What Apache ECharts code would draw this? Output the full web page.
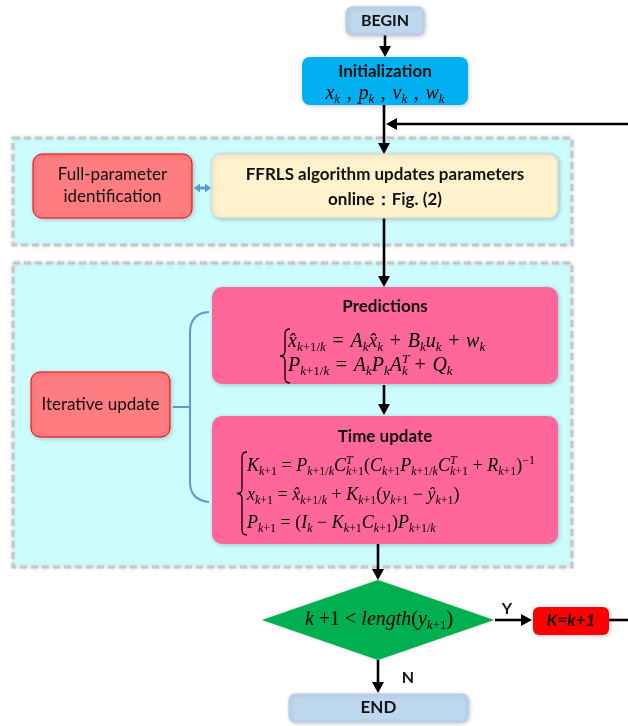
<!DOCTYPE html>
<html><head><meta charset="utf-8">
<script src="https://cdn.jsdelivr.net/npm/echarts@6/dist/echarts.min.js"></script>
<style>html,body{margin:0;padding:0;background:#fff}#c{width:628px;height:726px}</style>
</head><body><div id="c"></div>
<script>
// ---------------- content (text of the flowchart) ----------------
const boxLabels = ['BEGIN', 'Initialization', 'Full-parameter\nidentification',
  'FFRLS algorithm updates parameters\nonline\uff1aFig. (2)', 'Iterative update',
  'Predictions', 'Time update', 'K=k+1', 'END'];
const initVariables = ['x_{k} , p_{k} , v_{k} , w_{k}'];
const predictionEquations = ['x\u0302_{k+1/k} = A_{k}x\u0302_{k} + B_{k}u_{k} + w_{k}',
  'P_{k+1/k} = A_{k}P_{k}A^{T}_{k} + Q_{k}'];
const timeUpdateEquations = ['K_{k+1} = P_{k+1/k}C^{T}_{k+1}(C_{k+1}P_{k+1/k}C^{T}_{k+1} + R_{k+1})^{\u22121}',
  'x_{k+1} = x\u0302_{k+1/k} + K_{k+1}(y_{k+1} \u2212 \u0177_{k+1})',
  'P_{k+1} = (I_{k} \u2212 K_{k+1}C_{k+1})P_{k+1/k}'];
const decisionCondition = ['k +1 < length(y_{k+1})'];
const branchLabels = ['Y', 'N'];

// ---------------- layout (pixel frame of the page) ----------------
const LAB = 'Lato, "Open Sans", sans-serif';
const regionLayout = [[13, 138, 572, 245], [13, 263, 572, 567]];
const boxLayout = [
  { rect: [346, 7, 424, 35], r: 6, fill: '#bdd7ee', stroke: '#b3cce6', ty: 21, font: 'bold 16px ' + LAB },
  { rect: [302, 57, 468, 105], r: 8, fill: '#00b0f0', stroke: null, ty: 72, font: 'bold 17px ' + LAB },
  { rect: [33, 154, 192, 218], r: 9, fill: '#ff7c80', stroke: '#ff0000', ty: 186, lh: 22, font: '17px ' + LAB },
  { rect: [212, 154, 558, 218], r: 9, fill: '#fff2cc', stroke: '#d9d9d9', ty: 187.5, lh: 25, font: 'bold 17px ' + LAB },
  { rect: [31, 372, 170, 437], r: 9, fill: '#ff7c80', stroke: '#ff0000', ty: 405, font: '17px ' + LAB },
  { rect: [212, 287, 558, 384], r: 10, fill: '#ff6699', stroke: null, ty: 307, font: 'bold 17px ' + LAB },
  { rect: [212, 416, 558, 544], r: 10, fill: '#ff6699', stroke: null, ty: 437, font: 'bold 17px ' + LAB },
  { rect: [533, 607, 609, 635], r: 6, fill: '#ff0000', stroke: null, ty: 621, font: 'italic bold 17px ' + LAB },
  { rect: [289, 694, 468, 722], r: 6, fill: '#bdd7ee', stroke: '#b3cce6', ty: 708, font: 'bold 17px ' + LAB }
];
const arrowLayout = [
  { pts: [[385, 35], [385, 57]], head: 'end' },
  { pts: [[384, 105], [384, 154]], head: 'end' },
  { pts: [[628, 124], [386, 124]], head: 'end' },
  { pts: [[384, 218], [384, 287]], head: 'end' },
  { pts: [[384, 385], [384, 415]], head: 'end' },
  { pts: [[378, 544], [378, 580]], head: 'end' },
  { pts: [[495, 620], [532, 620]], head: 'end' },
  { pts: [[609, 620], [628, 620]], head: 'none' },
  { pts: [[378, 660], [378, 693]], head: 'end' },
  { pts: [[194, 188], [211, 188]], head: 'both', color: '#5b9bd5', width: 3, hl: 6, hw: 4.5 }
];
const mathSources = [].concat(initVariables, predictionEquations, timeUpdateEquations, decisionCondition);
const mathLayout = [
  { x: 385, y: 94, align: 'center', size: 20, sub: 13, wide: true },
  { x: 288, y: 342, align: 'left', size: 20, sub: 13, wide: true },
  { x: 288, y: 366, align: 'left', size: 20, sub: 13, wide: true },
  { x: 247, y: 466, align: 'left', size: 18, sub: 12 },
  { x: 247, y: 495, align: 'left', size: 18, sub: 12 },
  { x: 247, y: 523, align: 'left', size: 18, sub: 12 },
  { x: 379, y: 620, align: 'center', size: 20, sub: 13 }
];
const braceLayout = [
  { x: 285, y0: 329, y1: 383, d: 5, color: '#000', width: 1.3 },
  { x: 242, y0: 452, y1: 535, d: 5, color: '#000', width: 1.3 }
];
const labelLayout = [[507, 609], [408, 678]];
const diamondLayout = { cx: 378, cy: 620, hw: 116, hh: 40, fill: '#00b050' };

// ---------------- math text helper (rich text) ----------------
function mathStyles(S, sS) {
  const fam = '"Liberation Serif", "Times New Roman", serif';
  const H = Math.round(S * 1.2), sh = Math.round(S * 0.62);
  const b = (size, it, extra) => Object.assign({ fontFamily: fam, fontSize: size, fontStyle: it ? 'italic' : 'normal', fill: '#000' }, extra);
  return {
    mi: b(S, true, { height: H, lineHeight: H }),
    mu: b(S, false, { height: H, lineHeight: H }),
    si: b(sS, true, { height: sh, lineHeight: sh, verticalAlign: 'bottom' }),
    su: b(sS, false, { height: sh, lineHeight: sh, verticalAlign: 'bottom' }),
    pi: b(sS, true, { height: sh, lineHeight: sh, verticalAlign: 'top' }),
    pu: b(sS, false, { height: sh, lineHeight: sh, verticalAlign: 'top' }),
    zi: b(sS, true, { height: sh, lineHeight: sh, verticalAlign: 'top', width: 0 }),
    zu: b(sS, false, { height: sh, lineHeight: sh, verticalAlign: 'top', width: 0 })
  };
}
function mathRich(str, wide) {
  let out = '';
  const push = (st, t) => { if (t) out += '{' + st + '|' + t + '}'; };
  const prefix = { main: 'm', sub: 's', sup: 'p', zsup: 'z' };
  function emit(text, level) {
    if (wide && level === 'main') text = text.replace(/ /g, '\u2004');
    let cur = '', curIt = null;
    for (const ch of text) {
      let it;
      if (/[\u0300-\u036f]/.test(ch)) it = curIt;
      else it = /\p{L}/u.test(ch);
      if (curIt !== null && it !== curIt) { push(prefix[level] + (curIt ? 'i' : 'u'), cur); cur = ''; }
      cur += ch; curIt = it;
    }
    if (cur) push(prefix[level] + (curIt ? 'i' : 'u'), cur);
  }
  let buf = '', i = 0;
  while (i < str.length) {
    const ch = str[i];
    if ((ch === '_' || ch === '^') && str[i + 1] === '{') {
      const end = str.indexOf('}', i);
      emit(buf, 'main'); buf = '';
      const level = ch === '_' ? 'sub' : (str[end + 1] === '_' ? 'zsup' : 'sup');
      emit(str.slice(i + 2, end), level);
      i = end + 1;
    } else { buf += ch; i++; }
  }
  emit(buf, 'main');
  return out;
}

// ---------------- drawing ----------------
function R(api, r) {
  const a = api.coord([r[0], r[1]]), c = api.coord([r[2], r[3]]);
  return { x: a[0], y: a[1], width: c[0] - a[0], height: c[1] - a[1] };
}
function arrowEls(api, A) {
  const color = A.color || '#000', w = A.width || 2.6, hl = A.hl || 11, hw = A.hw || 6;
  const p = A.pts.map(q => api.coord(q));
  const els = [];
  const head = (tip, from) => {
    const dx = tip[0] - from[0], dy = tip[1] - from[1], L = Math.hypot(dx, dy);
    const ux = dx / L, uy = dy / L;
    const bx = tip[0] - ux * hl, by = tip[1] - uy * hl;
    els.push({ type: 'polygon', shape: { points: [tip, [bx - uy * hw, by + ux * hw], [bx + uy * hw, by - ux * hw]] }, style: { fill: color } });
    return [bx + ux * 1, by + uy * 1];
  };
  const line = p.map(q => q.slice());
  if (A.head === 'end' || A.head === 'both') line[line.length - 1] = head(p[p.length - 1], p[p.length - 2]);
  if (A.head === 'both') line[0] = head(p[0], p[1]);
  els.unshift({ type: 'polyline', shape: { points: line }, style: { stroke: color, lineWidth: w, fill: null } });
  return els;
}
function bracePath(api, B) {
  const t = api.coord([B.x, B.y0]), b = api.coord([B.x, B.y1]);
  const x = t[0], y0 = t[1], y1 = b[1], ym = (y0 + y1) / 2, d = B.d;
  return 'M' + (x + d) + ' ' + y0 + ' Q' + x + ' ' + y0 + ' ' + x + ' ' + (y0 + d) +
    ' L' + x + ' ' + (ym - d) + ' Q' + x + ' ' + ym + ' ' + (x - d) + ' ' + ym +
    ' Q' + x + ' ' + ym + ' ' + x + ' ' + (ym + d) +
    ' L' + x + ' ' + (y1 - d) + ' Q' + x + ' ' + y1 + ' ' + (x + d) + ' ' + y1;
}
function blueBrace(api) {
  const c = (x, y) => api.coord([x, y]).join(' ');
  return 'M' + c(209, 312) + ' Q' + c(190, 313) + ' ' + c(190, 333) + ' L' + c(190, 482) +
    ' Q' + c(190, 500) + ' ' + c(209, 502) + ' M' + c(173, 407) + ' L' + c(190, 407);
}
const idx = n => Array.from({ length: n }, (_, i) => [i]);

const chart = echarts.init(document.getElementById('c'), null, { renderer: 'canvas' });
chart.setOption({
  backgroundColor: '#ffffff',
  animation: false,
  grid: { left: 0, right: 0, top: 0, bottom: 0 },
  xAxis: { type: 'value', min: 0, max: 628, show: false },
  yAxis: { type: 'value', min: 0, max: 726, inverse: true, show: false },
  series: [
    { type: 'custom', name: 'regions', z: 1, data: idx(regionLayout.length),
      renderItem: (p, api) => {
        const s = R(api, regionLayout[api.value(0)]);
        return { type: 'rect', shape: s, style: { fill: '#ccfcfd', stroke: '#c6c6c6', lineWidth: 3, lineDash: [7, 4], shadowBlur: 4, shadowColor: 'rgba(0,0,0,0.12)' } };
      } },
    { type: 'custom', name: 'connectors', z: 2, data: idx(arrowLayout.length),
      renderItem: (p, api) => ({ type: 'group', children: arrowEls(api, arrowLayout[api.value(0)]) }) },
    { type: 'custom', name: 'bracket', z: 2, data: idx(1),
      renderItem: (p, api) => ({ type: 'path', shape: { pathData: blueBrace(api) }, style: { stroke: '#5b9bd5', lineWidth: 2, fill: null } }) },
    { type: 'custom', name: 'boxes', z: 3, data: idx(boxLabels.length),
      renderItem: (p, api) => {
        const i = api.value(0), L = boxLayout[i], s = R(api, L.rect);
        const t = api.coord([(L.rect[0] + L.rect[2]) / 2, L.ty]);
        return { type: 'group', children: [
          { type: 'rect', shape: Object.assign({ r: L.r }, s),
            style: { fill: L.fill, stroke: L.stroke, lineWidth: 1, shadowBlur: 4, shadowOffsetX: 1, shadowOffsetY: 1, shadowColor: 'rgba(0,0,0,0.22)' } },
          { type: 'text', x: t[0], y: t[1], z2: 5,
            style: { text: boxLabels[i], font: L.font, fill: '#111', align: 'center', verticalAlign: 'middle', textAlign: 'center', textVerticalAlign: 'middle', lineHeight: L.lh || 20 } }
        ] };
      } },
    { type: 'custom', name: 'decision', z: 3, data: idx(1),
      renderItem: (p, api) => {
        const D = diamondLayout;
        const pts = [[D.cx - D.hw, D.cy], [D.cx, D.cy - D.hh], [D.cx + D.hw, D.cy], [D.cx, D.cy + D.hh]].map(q => api.coord(q));
        return { type: 'polygon', shape: { points: pts }, style: { fill: D.fill, shadowBlur: 3, shadowColor: 'rgba(0,0,0,0.2)' } };
      } },
    { type: 'custom', name: 'braces', z: 4, data: idx(braceLayout.length),
      renderItem: (p, api) => {
        const B = braceLayout[api.value(0)];
        return { type: 'path', shape: { pathData: bracePath(api, B) }, style: { stroke: B.color, lineWidth: B.width, fill: null } };
      } },
    { type: 'custom', name: 'math', z: 5, data: idx(mathSources.length),
      renderItem: (p, api) => {
        const i = api.value(0), M = mathLayout[i], c = api.coord([M.x, M.y]);
        return { type: 'text', x: c[0], y: c[1],
          style: { text: mathRich(mathSources[i], M.wide), rich: mathStyles(M.size, M.sub), align: M.align, verticalAlign: 'middle', textAlign: M.align, textVerticalAlign: 'middle' } };
      } },
    { type: 'custom', name: 'branch', z: 5, data: idx(branchLabels.length),
      renderItem: (p, api) => {
        const i = api.value(0), c = api.coord(labelLayout[i]);
        return { type: 'text', x: c[0], y: c[1], style: { text: branchLabels[i], font: 'bold 16px ' + LAB, fill: '#111', align: 'center', verticalAlign: 'middle', textAlign: 'center', textVerticalAlign: 'middle' } };
      } }
  ]
});
</script>
</body></html>
